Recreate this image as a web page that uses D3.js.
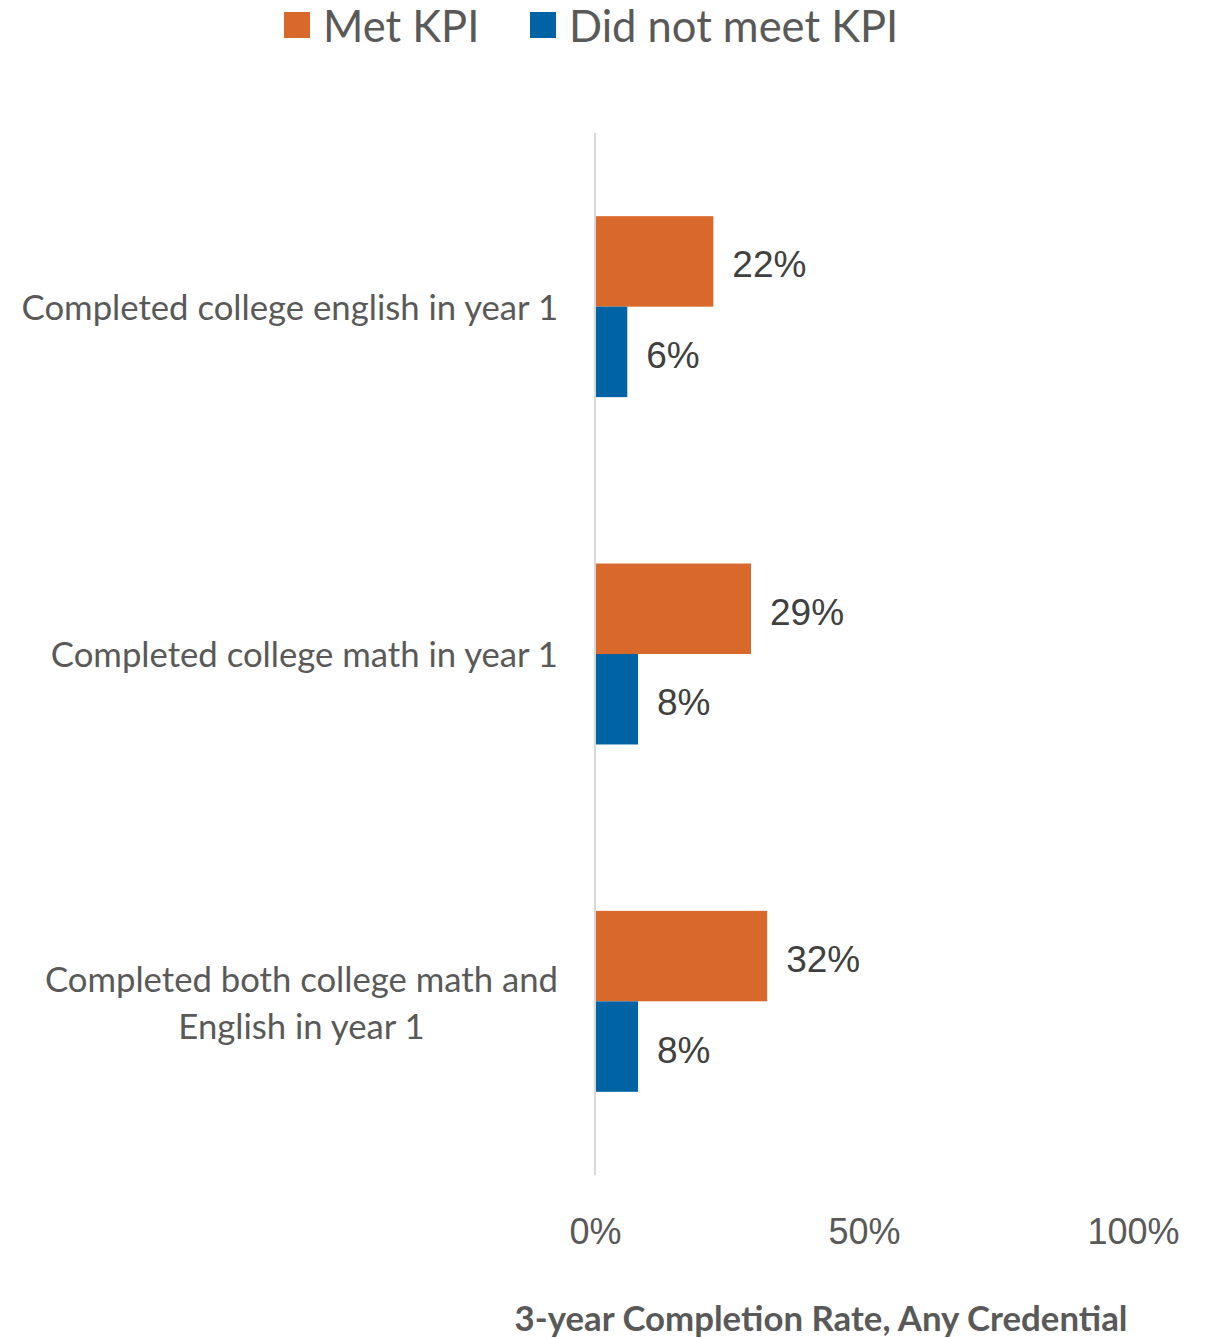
<!DOCTYPE html>
<html>
<head>
<meta charset="utf-8">
<script src="https://cdn.jsdelivr.net/npm/d3@7"></script>
<style>
  body { margin: 0; background: #fff; }
</style>
</head>
<body>
<script>
// chart data
let categories = [
    'Completed college english in year 1',
    'Completed college math in year 1',
    'Completed both college math and|English in year 1'
]
let seriesNames = ['Met KPI', 'Did not meet KPI']
let metValues = [0.22, 0.29, 0.32]
let notMetValues = [0.06, 0.08, 0.08]
let tickValues = [0, 0.5, 1]
let colors = ['#D9692B', '#0064A4']

let textColor = '#595959'

let svg = d3.select('body').append('svg')
    .attr('width', 1209)
    .attr('height', 1338)

// x scale, 0..100%
let xScale = d3.scaleLinear()
    .domain([0, 1])
    .range([595, 1133])

// category bands, gap width like excel (~92%)
let yScale = d3.scaleBand()
    .domain(categories)
    .range([133, 1175])
    .paddingInner(0.479)
    .paddingOuter(0.2395)

let ySub = d3.scaleBand()
    .domain(seriesNames)
    .range([0, yScale.bandwidth()])

let rows = categories.map(function(c, i) {
    return { cat: c, values: [metValues[i], notMetValues[i]] }
})

// bars
let groups = svg.selectAll('.group')
    .data(rows)
    .enter()
    .append('g')
    .attr('transform', function(d) { return 'translate(0,' + yScale(d.cat) + ')' })

groups.selectAll('rect')
    .data(function(d) { return d.values.map(function(v, j) { return { name: seriesNames[j], v: v, j: j } }) })
    .enter()
    .append('rect')
        .attr('x', xScale(0))
        .attr('y', function(d) { return ySub(d.name) })
        .attr('width', function(d) { return xScale(d.v) - xScale(0) })
        .attr('height', ySub.bandwidth())
        .attr('fill', function(d) { return colors[d.j] })

// value labels
groups.selectAll('.val')
    .data(function(d) { return d.values.map(function(v, j) { return { name: seriesNames[j], v: v } }) })
    .enter()
    .append('text')
        .attr('x', function(d) { return xScale(d.v) + 19 })
        .attr('y', function(d) { return ySub(d.name) + ySub.bandwidth() / 2 + 3 })
        .attr('dy', '0.35em')
        .attr('font-family', '"Liberation Sans", Arial, sans-serif')
        .attr('font-size', 37)
        .attr('fill', '#404040')
        .text(function(d) { return d3.format('.0%')(d.v) })

// vertical axis line
svg.append('line')
    .attr('x1', xScale(0)).attr('x2', xScale(0))
    .attr('y1', 133).attr('y2', 1175)
    .attr('stroke', '#d9d9d9')
    .attr('stroke-width', 2)

// category labels
categories.forEach(function(c) {
    let lines = c.split('|')
    let cy = yScale(c) + yScale.bandwidth() / 2
    let t = svg.append('text')
        .attr('font-family', 'Lato, "Open Sans", sans-serif')
        .attr('font-size', 34.7)
        .attr('fill', textColor)
    if (lines.length == 1) {
        t.attr('x', 558).attr('y', cy + 1).attr('dy', '0.35em')
            .attr('text-anchor', 'end').text(c)
    } else {
        // multi-line labels are centred on the widest line
        t.attr('text-anchor', 'middle')
        let spans = lines.map(function(l, k) {
            return t.append('tspan')
                .attr('y', cy + 2 + (k - (lines.length - 1) / 2) * 47)
                .attr('dy', '0.35em')
                .text(l)
        })
        let w = d3.max(spans, function(s) { return s.node().getComputedTextLength() })
        spans.forEach(function(s) { s.attr('x', 558 - w / 2) })
    }
})

// x axis tick labels
let xAxis = d3.axisBottom(xScale)
    .tickValues(tickValues)
    .tickSize(0)
    .tickFormat(d3.format('.0%'))

let gx = svg.append('g')
    .attr('transform', 'translate(0,1215)')
    .call(xAxis)
gx.select('.domain').remove()
gx.selectAll('text')
    .attr('font-family', '"Liberation Sans", Arial, sans-serif')
    .attr('font-size', 36)
    .attr('fill', textColor)

// axis title
svg.append('text')
    .attr('x', 821)
    .attr('y', 1331)
    .attr('text-anchor', 'middle')
    .attr('font-family', 'Lato, "Open Sans", sans-serif')
    .attr('font-weight', 'bold')
    .attr('font-size', 34.8)
    .attr('fill', textColor)
    .text('3-year Completion Rate, Any Credential')

// legend
let legendX = [284, 530]
seriesNames.forEach(function(name, i) {
    svg.append('rect')
        .attr('x', legendX[i]).attr('y', 12)
        .attr('width', 26).attr('height', 26)
        .attr('fill', colors[i])
    svg.append('text')
        .attr('x', legendX[i] + 39)
        .attr('y', 42)
        .attr('font-family', 'Lato, "Open Sans", sans-serif')
        .attr('font-size', 43.5)
        .attr('fill', textColor)
        .text(name)
})
</script>
</body>
</html>
